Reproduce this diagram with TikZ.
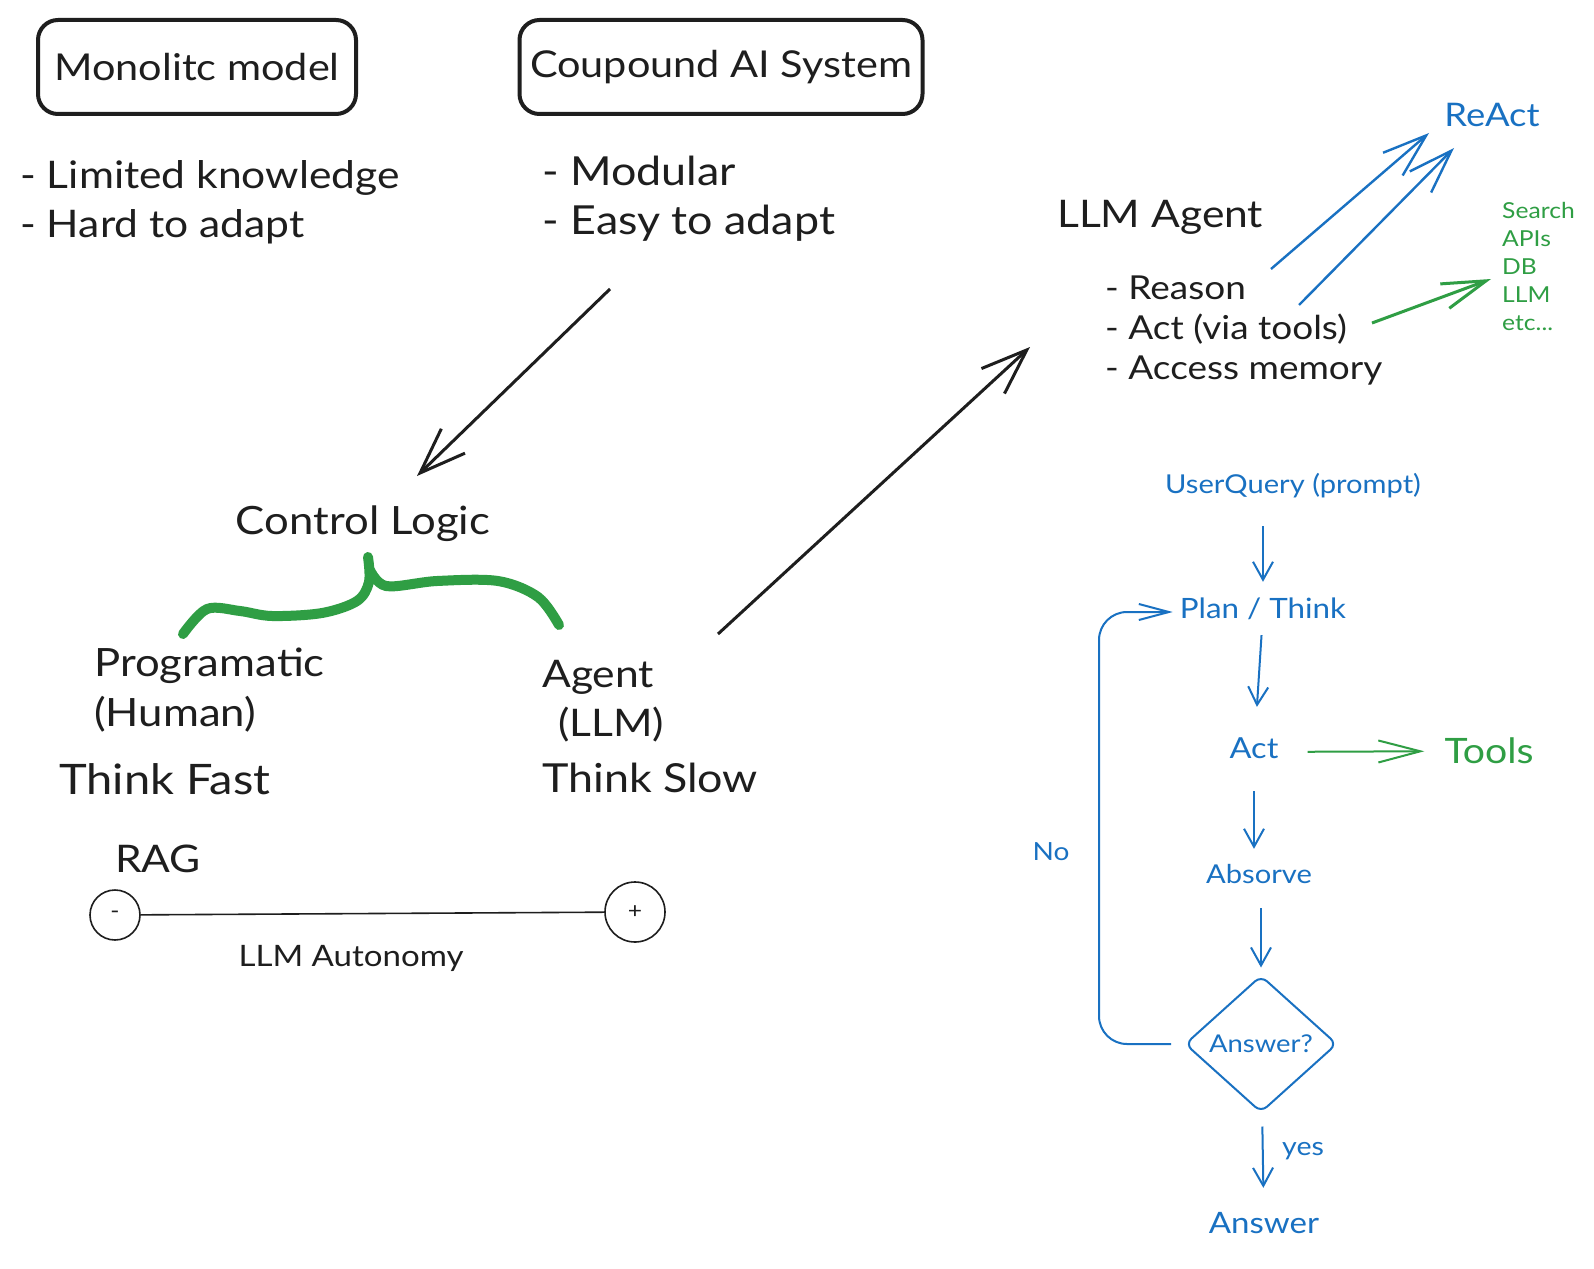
\documentclass[tikz,border=0pt]{standalone}
\usepackage{fontspec}
\setmainfont{Lato}[FakeStretch=1.12]
\usetikzlibrary{arrows.meta,shapes.geometric}
\definecolor{exblack}{HTML}{1E1E1E}
\definecolor{exblue}{HTML}{1971C2}
\definecolor{exgreen}{HTML}{2F9E44}

\begin{document}
\begin{tikzpicture}[x=1pt, y=-1pt, exblack,
  titlebox/.style={draw, line width=4pt, rounded corners=20pt, minimum height=94pt,
    font=\fontsize{37}{44}\selectfont},
  bigtxt/.style={align=left, inner sep=0pt, font=\fontsize{38}{49}\selectfont},
  flowtxt/.style={text=exblue, inner sep=0pt, text height=18pt, text depth=6pt,
    font=\fontsize{26}{30}\selectfont},
  flowarr/.style={exblue, line width=2pt, -{Straight Barb[length=18pt, width=20pt]}},
  bigarr/.style={line width=3pt, -{Straight Barb[length=46pt, width=34pt]}},
  reactarr/.style={exblue, line width=2.4pt, -{Straight Barb[length=44pt, width=30pt]}}]
  \fill [white] (0,0) rectangle (1594,1268);
  \useasboundingbox (0,0) rectangle (1594,1268);

  % monolith vs compound
  \node [titlebox, minimum width=318pt] (mono) at (197,67) {Monolitc model};
  \node [titlebox, minimum width=403pt] (coup) at (721,67) {Coupound AI System};
  \node [bigtxt, anchor=west] (monolist) at (20,202) {- Limited knowledge\\- Hard to adapt};
  \node [bigtxt, anchor=west, font=\fontsize{40}{49}\selectfont] (couplist) at (542,199)
    {- Modular\\- Easy to adapt};

  \coordinate (c1) at (610,289);
  \coordinate (c2) at (417,476);
  \draw [bigarr] (c1) -- (c2);

  % control logic
  \node [bigtxt, font=\fontsize{39}{49}\selectfont] (ctrl) at (363,524) {Control Logic};
  \draw [exgreen, line width=10pt, line cap=round, line join=round]
    plot [smooth, tension=.55] coordinates {(183,634) (207,609) (240,611) (272,616)
      (322,613) (357,601) (369,582) (368,557)}
    plot [smooth, tension=.55] coordinates {(369,568) (386,586) (437,581) (498,581)
      (538,597) (559,625)};
  \node [bigtxt, anchor=west, font=\fontsize{39}{50}\selectfont] (prog) at (94,690)
    {Programatic\\(Human)};
  \node [bigtxt, anchor=west, font=\fontsize{42}{49}\selectfont] (fast) at (59,779) {Think Fast};
  \node [bigtxt, anchor=west] (agent) at (542,701) {Agent\\\hspace*{16pt}(LLM)};
  \node [bigtxt, anchor=west, font=\fontsize{40}{49}\selectfont] (slow) at (542,778) {Think Slow};

  % autonomy scale
  \node [bigtxt] (rag) at (158,859) {RAG};
  \node [circle, draw, line width=1.6pt, minimum size=50pt, inner sep=0pt,
    font=\fontsize{22}{24}\selectfont] (lo) at (115,915) {-};
  \node [circle, draw, line width=1.6pt, minimum size=60pt, inner sep=0pt,
    font=\fontsize{22}{24}\selectfont] (hi) at (635,912) {+};
  \draw [line width=1.6pt] (lo) -- (hi);
  \node [font=\fontsize{29.5}{34}\selectfont, inner sep=0pt] (autonomy) at (351,958) {LLM Autonomy};

  \coordinate (c3) at (718,634);
  \coordinate (c4) at (1030,347);
  \draw [bigarr] (c3) -- (c4);

  % the agent
  \node [bigtxt, anchor=west, font=\fontsize{38}{48}\selectfont] (llmagent) at (1057,217) {LLM Agent};
  \node [bigtxt, anchor=west, font=\fontsize{33}{40}\selectfont] (skills) at (1105,331)
    {- Reason\\- Act (via tools)\\- Access memory};
  \node [text=exblue, inner sep=0pt, font=\fontsize{32.5}{36}\selectfont] (react) at (1492,115) {ReAct};
  \node [text=exgreen, align=left, anchor=west, inner sep=0pt, font=\fontsize{22}{28}\selectfont]
    (toolset) at (1502,266) {Search\\APIs\\DB\\LLM\\etc...};
  \coordinate (r1) at (1271,269);
  \coordinate (r2) at (1429,133);
  \coordinate (r3) at (1299,305);
  \coordinate (r4) at (1454,148);
  \coordinate (g1) at (1372,323);
  \coordinate (g2) at (1491,279);
  \draw [reactarr] (r1) -- (r2);
  \draw [reactarr] (r3) -- (r4);
  \draw [exgreen, line width=3pt, -{Straight Barb[length=44pt, width=26pt]}] (g1) -- (g2);

  % ReAct loop
  \node [flowtxt] (user) at (1293,487) {UserQuery (prompt)};
  \node [flowtxt, font=\fontsize{28}{32}\selectfont] (plan) at (1263,612) {Plan / Think};
  \node [flowtxt, font=\fontsize{29}{32}\selectfont] (act) at (1254,752) {Act};
  \node [text=exgreen, inner sep=0pt, font=\fontsize{35}{38}\selectfont] (tools) at (1489,751) {Tools};
  \node [flowtxt] (absorve) at (1259,877) {Absorve};
  \node [diamond, draw=exblue, line width=2pt, rounded corners=8pt, minimum width=152pt,
    minimum height=137pt, inner sep=0pt, text=exblue, font=\fontsize{24.5}{30}\selectfont]
    (decide) at (1261,1044) {Answer?};
  \node [flowtxt, font=\fontsize{29.5}{34}\selectfont] (answer) at (1264,1227) {Answer};
  \node [flowtxt, font=\fontsize{25}{30}\selectfont] (no) at (1051,854) {No};
  \node [flowtxt, font=\fontsize{25.5}{30}\selectfont] (yes) at (1303,1149) {yes};

  \draw [flowarr, shorten <=27pt, shorten >=18pt] (user.south -| plan) -- (plan);
  \draw [flowarr, shorten <=11pt, shorten >=33pt] (plan) -- (act);
  \draw [flowarr, shorten <=27pt, shorten >=16pt] (act) -- (act |- absorve.north);
  \draw [flowarr, shorten <=19pt, shorten >=7pt] (absorve.south -| decide) -- (decide);
  \draw [flowarr, shorten <=14pt, shorten >=27pt] (decide) -- (answer);
  \draw [exgreen, line width=2pt, shorten <=29pt, shorten >=20pt,
    -{Straight Barb[length=42pt, width=22pt]}] (act) -- (tools);
  \draw [exblue, line width=2pt, rounded corners=28pt, shorten <=13pt, shorten >=7pt,
    -{Straight Barb[length=30pt, width=16pt]}] (decide.west) -- ++(-85,0) |- (plan.west);
\end{tikzpicture}
\end{document}
